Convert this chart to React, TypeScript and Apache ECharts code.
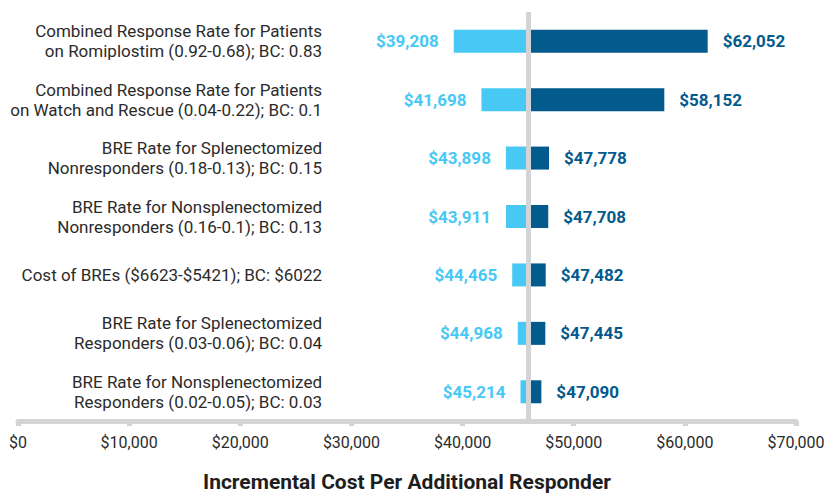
import React, { useEffect, useRef } from "react";
import * as echarts from "echarts";

const categories = [
  "Combined Response Rate for Patients\non Romiplostim (0.92-0.68); BC: 0.83",
  "Combined Response Rate for Patients\non Watch and Rescue (0.04-0.22); BC: 0.1",
  "BRE Rate for Splenectomized\nNonresponders (0.18-0.13); BC: 0.15",
  "BRE Rate for Nonsplenectomized\nNonresponders (0.16-0.1); BC: 0.13",
  "Cost of BREs ($6623-$5421); BC: $6022",
  "BRE Rate for Splenectomized\nResponders (0.03-0.06); BC: 0.04",
  "BRE Rate for Nonsplenectomized\nResponders (0.02-0.05); BC: 0.03",
];
const lowValues = [39208, 41698, 43898, 43911, 44465, 44968, 45214];
const highValues = [62052, 58152, 47778, 47708, 47482, 47445, 47090];
const baseCase = 45950;
const axisTicks = [0, 10000, 20000, 30000, 40000, 50000, 60000, 70000];

const LIGHT = "#47c8f5";
const DARK = "#035a8d";
const GRAY = "#d3d4d6";
const FONT = "Roboto";

const fmt = (v: number) => "$" + v.toLocaleString("en-US");

export default function App() {
  const ref = useRef<HTMLDivElement>(null);
  useEffect(() => {
    if (!ref.current) return;
    const chart = echarts.init(ref.current, undefined, { renderer: "svg" });
    const xMin = axisTicks[0];
    const xMax = axisTicks[axisTicks.length - 1];
    const xInt = axisTicks[1] - axisTicks[0];
    chart.setOption({
      animation: false,
      textStyle: { fontFamily: FONT },
      grid: {
        left: 18,
        right: 33,
        top: 12,
        bottom: 74,
        containLabel: false,
        outerBoundsMode: "none",
      },
      xAxis: {
        type: "value",
        min: xMin,
        max: xMax,
        interval: xInt,
        position: "bottom",
        splitLine: { show: false },
        axisLine: { show: true, lineStyle: { color: GRAY, width: 5 } },
        axisTick: { show: true, length: 5, lineStyle: { color: GRAY, width: 5 } },
        axisLabel: {
          formatter: (v: number) => fmt(v),
          color: "#2b2b2b",
          fontSize: 16,
          fontFamily: FONT,
          margin: 13,
        },
        name: "Incremental Cost Per Additional Responder",
        nameLocation: "middle",
        nameGap: 50,
        nameTextStyle: { fontSize: 21, fontWeight: "bold", color: "#1e1e1e", fontFamily: FONT },
      },
      yAxis: {
        type: "category",
        inverse: true,
        data: categories,
        offset: -312,
        axisLine: { show: false },
        axisTick: { show: false },
        axisLabel: {
          margin: 8,
          color: "#2b2b2b",
          fontSize: 17,
          lineHeight: 20,
          fontFamily: FONT,
          align: "right",
        },
      },
      series: [
        {
          type: "bar",
          stack: "L",
          data: lowValues,
          barWidth: 23,
          barGap: "-100%",
          itemStyle: { color: "transparent" },
          silent: true,
        },
        {
          type: "bar",
          stack: "L",
          data: lowValues.map((v) => baseCase - v),
          barWidth: 23,
          barGap: "-100%",
          itemStyle: { color: LIGHT },
          label: {
            show: true,
            position: "left",
            distance: 15,
            formatter: (p: any) => fmt(lowValues[p.dataIndex]),
            color: LIGHT,
            fontSize: 17,
            fontWeight: "bold",
            fontFamily: FONT,
          },
        },
        {
          type: "bar",
          stack: "R",
          data: highValues.map(() => baseCase),
          barWidth: 23,
          barGap: "-100%",
          itemStyle: { color: "transparent" },
          silent: true,
        },
        {
          type: "bar",
          stack: "R",
          data: highValues.map((v) => v - baseCase),
          barWidth: 23,
          barGap: "-100%",
          itemStyle: { color: DARK },
          label: {
            show: true,
            position: "right",
            distance: 15,
            formatter: (p: any) => fmt(highValues[p.dataIndex]),
            color: DARK,
            fontSize: 17,
            fontWeight: "bold",
            fontFamily: FONT,
          },
          markLine: {
            silent: true,
            symbol: "none",
            label: { show: false },
            lineStyle: { color: GRAY, width: 5, type: "solid" },
            data: [{ xAxis: baseCase }],
          },
        },
      ],
    });
    return () => chart.dispose();
  }, []);
  return (
    <div
      ref={ref}
      style={{ position: "absolute", left: 0, top: 0, width: 829, height: 495, background: "#ffffff" }}
    />
  );
}
